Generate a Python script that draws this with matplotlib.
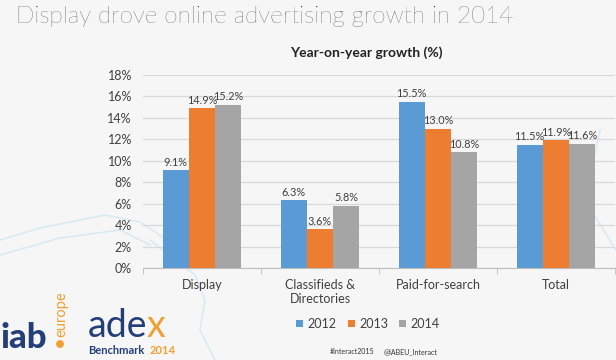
import numpy as np
import matplotlib.pyplot as plt
from matplotlib.patches import Circle

categories = ["Display", "Classifieds &\nDirectories", "Paid-for-search", "Total"]
years = ["2012", "2013", "2014"]
growth_2012 = [9.1, 6.3, 15.5, 11.5]
growth_2013 = [14.9, 3.6, 13.0, 11.9]
growth_2014 = [15.2, 5.8, 10.8, 11.6]
yticks = [0, 2, 4, 6, 8, 10, 12, 14, 16, 18]

colors = ["#5B9BD5", "#ED7D31", "#A5A5A5"]
txt = "#404040"
plt.rcParams['font.family'] = ['Lato', 'DejaVu Sans']

fig = plt.figure(figsize=(6.16, 3.6), dpi=100, facecolor="#f6f6f6")

# faint decorative lines of the slide background
deco = fig.add_axes([0, 0, 1, 1], zorder=-1)
deco.set_xlim(0, 616)
deco.set_ylim(360, 0)
deco.axis("off")
for xs, ys in [([0, 40, 105, 140, 200], [240, 228, 215, 222, 262]),
               ([0, 60, 120, 150], [255, 238, 230, 245]),
               ([150, 195, 205, 200, 215], [240, 275, 300, 330, 360]),
               ([600, 585, 616], [130, 200, 250])]:
    deco.plot(xs, ys, color="#d6eaf4", lw=1.1)

navy = "#243e7a"
gold = "#f0a030"
deco.add_patch(Circle((60, 344), 3.2, color=gold))

ax = fig.add_axes([143 / 616, 1 - 268 / 360, 472 / 616, 193 / 360])
ax.set_facecolor("none")

x = np.arange(len(categories))
w = 0.223
for j, (vals, yr) in enumerate(zip([growth_2012, growth_2013, growth_2014], years)):
    pos = x + (j - 1) * w
    ax.bar(pos, vals, width=w, color=colors[j], label=yr, zorder=3)
    for p, v in zip(pos, vals):
        ax.text(p, v + 0.25, f"{v:.1f}%", ha="center", va="bottom",
                fontsize=7.8, color=txt, zorder=4)

ax.set_xlim(-0.5, 3.5)
ax.set_ylim(0, 18)
ax.set_yticks(yticks)
ax.set_yticklabels([f"{t}%" for t in yticks], fontsize=9, color=txt)
ax.yaxis.grid(True, color="#d9d9d9", lw=0.9, zorder=0)
ax.tick_params(axis="y", length=0, pad=8)
ax.set_xticks(x)
ax.set_xticklabels(categories, fontsize=9, color=txt)
ax.set_xticks([-0.5, 0.5, 1.5, 2.5, 3.5], minor=True)
ax.tick_params(axis="x", which="major", length=0, pad=8)
ax.tick_params(axis="x", which="minor", length=4, color="#bfbfbf")
for s in ["top", "right", "left"]:
    ax.spines[s].set_visible(False)
ax.spines["bottom"].set_color("#bfbfbf")

ax.legend(loc="upper center", bbox_to_anchor=(0.477, -0.2), ncol=3, frameon=False,
          fontsize=9, handlelength=0.55, handleheight=0.55, handletextpad=0.35,
          columnspacing=0.9, labelcolor=txt)

fig.text(16 / 616, 1 - 16 / 360, "Display drove online advertising growth in 2014",
         fontsize=17.5, fontweight="light", color="#222222", va="center")
fig.text(366 / 616, 1 - 53 / 360, "Year-on-year growth (%)", fontsize=10,
         fontweight="bold", color="#222222", ha="center", va="center")

# footer
fig.text(374 / 616, 1 - 352 / 360, "#Interact2015", fontsize=5, color="#333333",
         ha="right", va="center")
fig.text(384 / 616, 1 - 352 / 360, "@IABEU_Interact", fontsize=5, color="#333333",
         ha="left", va="center")

# logos
fig.text(0 / 616, 1 - 338 / 360, "iab", fontsize=25, fontweight="black", color=navy,
         va="center")
fig.text(61 / 616, 1 - 314 / 360, "europe", fontsize=10.5, color=gold, rotation=90,
         ha="center", va="center")
fig.text(88 / 616, 1 - 326 / 360, "ade", fontsize=27, color=navy, va="center")
fig.text(147 / 616, 1 - 326 / 360, "x", fontsize=27, color=gold, va="center")
fig.text(88 / 616, 1 - 351 / 360, "Benchmark", fontsize=8, fontweight="bold",
         color=navy, va="center")
fig.text(150 / 616, 1 - 351 / 360, "2014", fontsize=8, fontweight="bold",
         color=gold, va="center")

fig.savefig("out.png", dpi=100, facecolor=fig.get_facecolor())
